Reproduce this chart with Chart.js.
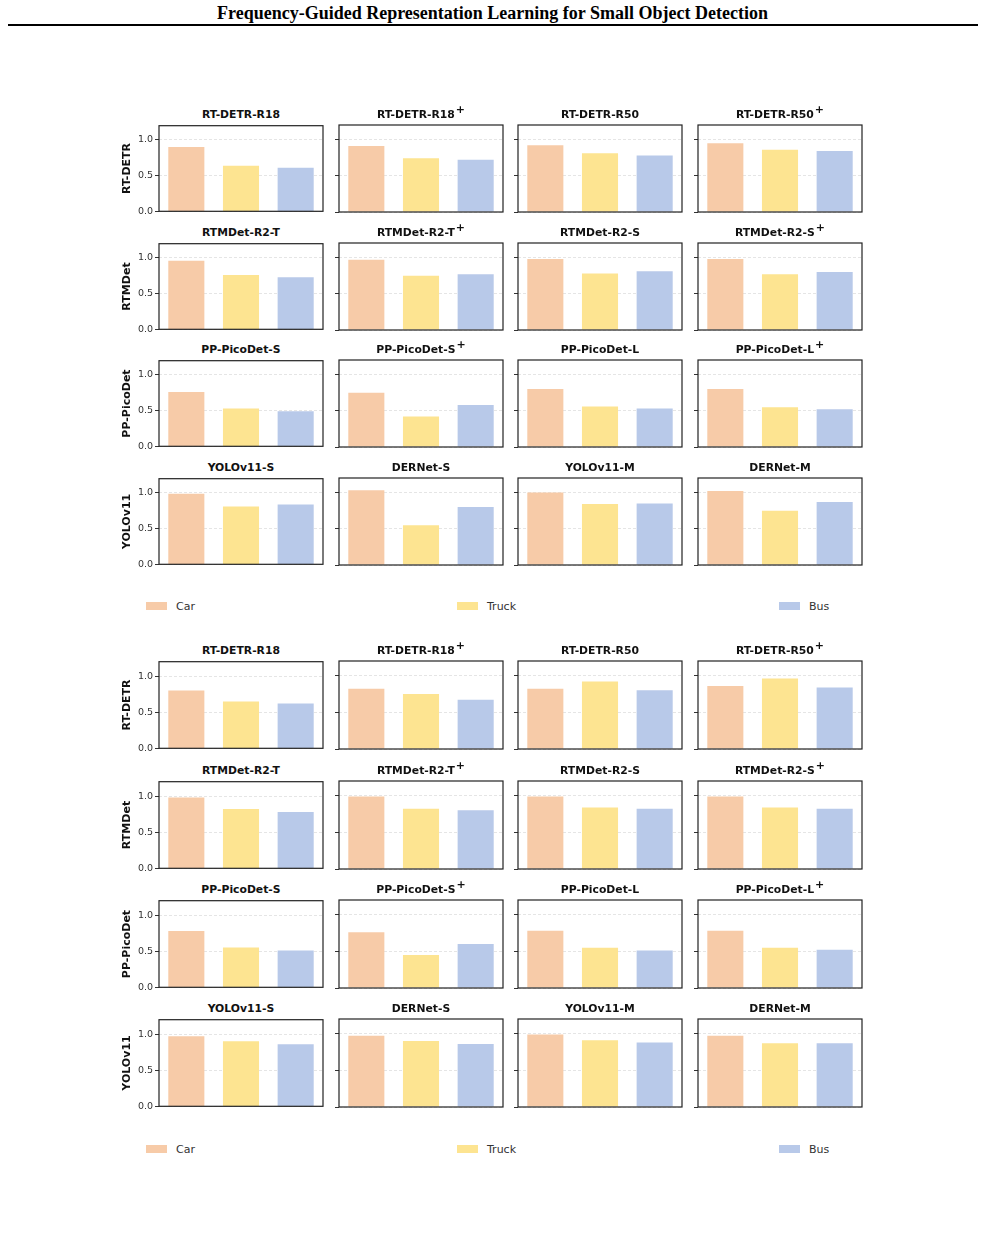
<!DOCTYPE html>
<html>
<head>
<meta charset="utf-8">
<script src="https://cdn.jsdelivr.net/npm/chart.js@4.4.0/dist/chart.umd.min.js"></script>
<style>
  body { margin: 0; background: #fff; width: 985px; height: 1254px; position: relative; overflow: hidden; font-family: "DejaVu Sans", sans-serif; }
  .header { position: absolute; left: 0; top: 3px; width: 985px; text-align: center; font-family: "Liberation Serif", serif; font-weight: bold; font-size: 18px; line-height: 20px; color: #000; }
  .rule { position: absolute; left: 8px; top: 24px; width: 970px; height: 2px; background: #000; }
  .ttl { position: absolute; width: 200px; text-align: center; font-weight: bold; font-size: 10.8px; line-height: 12px; color: #111; white-space: nowrap; }
  .ttl sup { font-size: 11px; font-weight: bold; vertical-align: 5px; line-height: 0; margin-left: 1px; }
  .panel { position: absolute; }
  .lg { position: absolute; font-size: 11px; color: #333; line-height: 13px; }
  .sw { position: absolute; width: 21px; height: 8px; }
</style>
</head>
<body>
<div class="header">Frequency-Guided Representation Learning for Small Object Detection</div>
<div class="rule"></div>
<script>
// data
const categories = ['Car', 'Truck', 'Bus'];
const barColors = ['#F7CBA8', '#FDE491', '#B8C9E9'];
const tickValues = [0, 0.5, 1.0];
const rowLabels = ['RT-DETR', 'RTMDet', 'PP-PicoDet', 'YOLOv11'];
const panelNames = [
    'RT-DETR-R18', 'RT-DETR-R18+', 'RT-DETR-R50', 'RT-DETR-R50+',
    'RTMDet-R2-T', 'RTMDet-R2-T+', 'RTMDet-R2-S', 'RTMDet-R2-S+',
    'PP-PicoDet-S', 'PP-PicoDet-S+', 'PP-PicoDet-L', 'PP-PicoDet-L+',
    'YOLOv11-S', 'DERNet-S', 'YOLOv11-M', 'DERNet-M'
];

// upper figure
const carTop   = [0.90, 0.91, 0.92, 0.95, 0.96, 0.97, 0.98, 0.98, 0.76, 0.75, 0.80, 0.80, 0.99, 1.03, 1.00, 1.02];
const truckTop = [0.64, 0.74, 0.81, 0.86, 0.76, 0.75, 0.78, 0.77, 0.53, 0.42, 0.56, 0.55, 0.81, 0.55, 0.84, 0.75];
const busTop   = [0.61, 0.72, 0.78, 0.84, 0.73, 0.77, 0.81, 0.80, 0.49, 0.58, 0.53, 0.52, 0.84, 0.80, 0.85, 0.87];

// lower figure
const carBottom   = [0.80, 0.82, 0.82, 0.86, 0.98, 0.99, 0.99, 0.99, 0.78, 0.76, 0.78, 0.78, 0.97, 0.97, 0.99, 0.97];
const truckBottom = [0.65, 0.75, 0.92, 0.96, 0.82, 0.82, 0.84, 0.84, 0.55, 0.45, 0.55, 0.55, 0.90, 0.90, 0.91, 0.87];
const busBottom   = [0.62, 0.67, 0.80, 0.84, 0.78, 0.80, 0.82, 0.82, 0.51, 0.60, 0.51, 0.52, 0.86, 0.86, 0.88, 0.87];

// layout
const colLeft = [159, 339, 518, 698];
const plotW = 164;
const groups = [
    { car: carTop, truck: truckTop, bus: busTop, rows: [125, 243, 360, 478], h: 87, legendY: 606 },
    { car: carBottom, truck: truckBottom, bus: busBottom, rows: [661, 781, 900, 1019], h: 88, legendY: 1149 }
];
const axisW = 50, padT = 7, padR = 6;

// black frame round each plot area (matplotlib style spines)
const frame = {
    id: 'frame',
    afterDraw(chart) {
        const a = chart.chartArea, ctx = chart.ctx;
        ctx.save();
        ctx.strokeStyle = '#222';
        ctx.lineWidth = 1.2;
        ctx.strokeRect(a.left, a.top, a.right - a.left, a.bottom - a.top);
        ctx.restore();
    }
};

groups.forEach(g => {
    g.rows.forEach((top, r) => {
        colLeft.forEach((left, c) => {
            const i = r * 4 + c;
            const name = panelNames[i];

            const t = document.createElement('div');
            t.className = 'ttl';
            t.style.left = (left + plotW / 2 - 100) + 'px';
            t.style.top = (top - 16) + 'px';
            t.innerHTML = name.endsWith('+') ? name.slice(0, -1) + '<sup>+</sup>' : name;
            document.body.appendChild(t);

            const cv = document.createElement('canvas');
            cv.className = 'panel';
            cv.width = axisW + plotW + padR;
            cv.height = g.h + padT * 2;
            cv.style.left = (left - axisW) + 'px';
            cv.style.top = (top - padT) + 'px';
            document.body.appendChild(cv);

            new Chart(cv, {
                type: 'bar',
                data: {
                    labels: categories,
                    datasets: [{
                        data: [g.car[i], g.truck[i], g.bus[i]],
                        backgroundColor: barColors,
                        borderWidth: 0,
                        barPercentage: 0.66,
                        categoryPercentage: 1
                    }]
                },
                options: {
                    responsive: false,
                    animation: false,
                    devicePixelRatio: 1,
                    layout: { padding: { top: padT, bottom: padT, left: 0, right: padR } },
                    plugins: { legend: { display: false }, tooltip: { enabled: false } },
                    scales: {
                        x: { display: false },
                        y: {
                            min: 0,
                            max: 1.2,
                            afterFit: s => { s.width = axisW; },
                            afterBuildTicks: s => { s.ticks = tickValues.map(v => ({ value: v })); },
                            ticks: {
                                display: c === 0,
                                color: '#333',
                                padding: 2,
                                font: { family: 'DejaVu Sans', size: 9.5 },
                                callback: v => v.toFixed(1)
                            },
                            grid: { color: '#dedede', lineWidth: 0.8, tickLength: 4, tickColor: '#333', tickWidth: 1 },
                            border: { display: false, dash: [3, 2] },
                            title: {
                                display: c === 0,
                                text: rowLabels[r],
                                color: '#111',
                                padding: { top: 12, bottom: 0 },
                                font: { family: 'DejaVu Sans', size: 11, weight: 'bold' }
                            }
                        }
                    }
                },
                plugins: [frame]
            });
        });
    });

    // shared legend row
    const lgX = [146, 457, 779];
    categories.forEach((cat, k) => {
        const sw = document.createElement('div');
        sw.className = 'sw';
        sw.style.left = lgX[k] + 'px';
        sw.style.top = (g.legendY - 4) + 'px';
        sw.style.background = barColors[k];
        document.body.appendChild(sw);
        const lb = document.createElement('div');
        lb.className = 'lg';
        lb.style.left = (lgX[k] + 30) + 'px';
        lb.style.top = (g.legendY - 6) + 'px';
        lb.textContent = cat;
        document.body.appendChild(lb);
    });
});
</script>
</body>
</html>
